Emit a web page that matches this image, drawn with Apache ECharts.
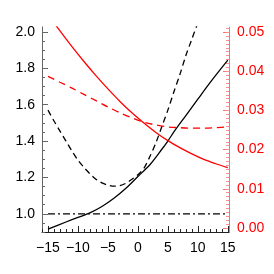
<!DOCTYPE html>
<html><head><meta charset="utf-8">
<script src="https://cdn.jsdelivr.net/npm/echarts@6/dist/echarts.min.js"></script>
<style>html,body{margin:0;padding:0;background:#fff}#c{width:274px;height:274px}</style>
</head><body><div id="c"></div>
<script>
// ---- data ----
const xTicks = [-15, -10, -5, 0, 5, 10, 15];
const yLeftTicks = [1.0, 1.2, 1.4, 1.6, 1.8, 2.0];
const yRightTicks = [0.00, 0.01, 0.02, 0.03, 0.04, 0.05];

const solidX = [-15, -12, -10, -8, -6, -4, -2, 0, 2, 4, 5, 6, 8, 10, 12, 15];
const solidY = [0.916, 0.955, 0.98, 1.005, 1.04, 1.085, 1.14, 1.205, 1.27, 1.355, 1.40, 1.45, 1.54, 1.63, 1.72, 1.845];

const dashX = [-15, -14, -13, -12, -11, -10, -9, -8, -7, -6, -5, -4, -3, -2, -1, 0, 1, 2, 3, 4, 5, 6, 7, 8, 9, 10];
const dashY = [1.57, 1.51, 1.455, 1.40, 1.345, 1.295, 1.255, 1.22, 1.19, 1.17, 1.158, 1.152, 1.155, 1.168, 1.19, 1.215, 1.25, 1.315, 1.39, 1.48, 1.57, 1.67, 1.765, 1.87, 1.96, 2.05];

const refX = [-15, 15];
const refY = [1.0, 1.0];

const redX = [-15, -13, -11, -9, -7, -5, -3, -1, 1, 3, 5, 7, 9, 11, 13, 15];
const redY = [0.0545, 0.0503, 0.0463, 0.0425, 0.0389, 0.0355, 0.0323, 0.0294, 0.0268, 0.0244, 0.0223, 0.0205, 0.0189, 0.0175, 0.0164, 0.0154];

const redDashX = [-15, -13, -11, -9, -7, -5, -3, -1, 1, 3, 5, 7, 9, 11, 13, 15];
const redDashY = [0.0387, 0.0372, 0.0357, 0.0341, 0.0325, 0.0309, 0.0294, 0.0281, 0.0270, 0.0263, 0.0258, 0.0256, 0.0255, 0.0255, 0.0256, 0.0258];

// ---- helpers ----
const pairs = (xs, ys) => xs.map((x, i) => [x, ys[i]]);
const range = (a, b, s) => { const r = []; for (let v = a; v <= b + 1e-9; v += s) r.push(+v.toFixed(4)); return r; };

const X_MIN = -16, X_MAX = 15.2;
const YL_MIN = 0.9, YL_MAX = 2.027;
const YR_MIN = -0.00102, YR_MAX = 0.0513;
const FONT = 'Liberation Sans';
const fmtMinus = v => String(v).replace('-', '\u2212');

const xMinor = range(-16, 15, 1);
const yLMinor = range(0.9, 2.0, 0.05);
const yRMinor = range(0, 0.051, 0.001);

const chart = echarts.init(document.getElementById('c'), null, {renderer: 'canvas'});
const lineBase = {type: 'line', showSymbol: false, symbol: 'none', smooth: 0.3, animation: false, z: 3};

chart.setOption({
  animation: false,
  backgroundColor: '#fff',
  grid: {left: 42, right: 45, top: 27, bottom: 42, outerBoundsMode: 'none'},
  xAxis: [
    {type: 'value', min: X_MIN, max: X_MAX, position: 'bottom',
     axisLine: {show: true, onZero: false, lineStyle: {color: '#222', width: 1}},
     axisTick: {show: true, inside: true, length: 6, customValues: xTicks, lineStyle: {color: '#222'}},
     axisLabel: {show: true, customValues: xTicks, margin: 9, color: '#000', fontFamily: FONT, fontSize: 14, formatter: fmtMinus},
     splitLine: {show: false}},
    {type: 'value', min: X_MIN, max: X_MAX, position: 'bottom',
     axisLine: {show: false, onZero: false},
     axisTick: {show: true, inside: true, length: 3, customValues: xMinor, lineStyle: {color: '#222'}},
     axisLabel: {show: false}, splitLine: {show: false}}
  ],
  yAxis: [
    {type: 'value', min: YL_MIN, max: YL_MAX, position: 'left',
     axisLine: {show: true, onZero: false, lineStyle: {color: '#666', width: 1}},
     axisTick: {show: true, inside: true, length: 6, customValues: yLeftTicks, lineStyle: {color: '#666'}},
     axisLabel: {show: true, customValues: yLeftTicks, margin: 7, color: '#000', fontFamily: FONT, fontSize: 14, formatter: v => v.toFixed(1)},
     splitLine: {show: false}},
    {type: 'value', min: YR_MIN, max: YR_MAX, position: 'right',
     axisLine: {show: true, onZero: false, lineStyle: {color: '#ff7070', width: 1}},
     axisTick: {show: true, inside: true, length: 6, customValues: yRightTicks, lineStyle: {color: '#ff7070'}},
     axisLabel: {show: true, customValues: yRightTicks, margin: 8, color: '#ff0000', fontFamily: FONT, fontSize: 14, formatter: v => v.toFixed(2)},
     splitLine: {show: false}},
    {type: 'value', min: YL_MIN, max: YL_MAX, position: 'left',
     axisLine: {show: false, onZero: false},
     axisTick: {show: true, inside: true, length: 3, customValues: yLMinor, lineStyle: {color: '#666'}},
     axisLabel: {show: false}, splitLine: {show: false}},
    {type: 'value', min: YR_MIN, max: YR_MAX, position: 'right',
     axisLine: {show: false, onZero: false},
     axisTick: {show: true, inside: true, length: 3, customValues: yRMinor, lineStyle: {color: '#ff9090'}},
     axisLabel: {show: false}, splitLine: {show: false}}
  ],
  series: [
    Object.assign({}, lineBase, {name: 'solid', xAxisIndex: 0, yAxisIndex: 0, data: pairs(solidX, solidY),
      lineStyle: {color: '#000', width: 1.3, type: 'solid'}}),
    Object.assign({}, lineBase, {name: 'dashed', xAxisIndex: 0, yAxisIndex: 0, data: pairs(dashX, dashY),
      lineStyle: {color: '#000', width: 1.3, type: [6, 4]}}),
    Object.assign({}, lineBase, {name: 'ref', smooth: false, xAxisIndex: 0, yAxisIndex: 0, data: pairs(refX, refY),
      lineStyle: {color: '#000', width: 1.2, type: [7, 3, 2, 3]}}),
    Object.assign({}, lineBase, {name: 'red', xAxisIndex: 0, yAxisIndex: 1, data: pairs(redX, redY),
      lineStyle: {color: '#ff0000', width: 1.3, type: 'solid'}}),
    Object.assign({}, lineBase, {name: 'redDash', xAxisIndex: 0, yAxisIndex: 1, data: pairs(redDashX, redDashY),
      lineStyle: {color: '#ff0000', width: 1.3, type: [7, 5]}})
  ]
});
</script>
</body></html>
